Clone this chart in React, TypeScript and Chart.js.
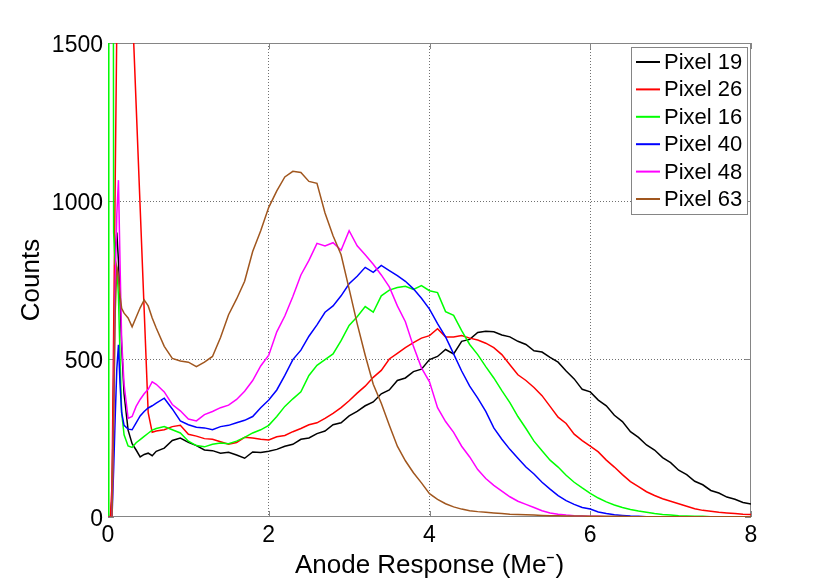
import React, { useEffect, useRef } from 'react';
import { Chart, registerables } from 'chart.js';

Chart.register(...registerables);

const FONT = '"Liberation Sans", Arial, Helvetica, sans-serif';

// bin centres (Me-), fine near the pedestal spike
const responseBins = [
  0, 0.01, 0.03, 0.05, 0.07, 0.09, 0.11, 0.13, 0.15, 0.17, 0.2, 0.25, 0.3, 0.35, 0.4, 0.45, 0.5, 0.55, 0.6,
  0.7, 0.8, 0.9, 1.0, 1.1, 1.2, 1.3, 1.4, 1.5, 1.6,
  1.7, 1.8, 1.9, 2.0, 2.1, 2.2, 2.3, 2.4, 2.5, 2.6,
  2.7, 2.8, 2.9, 3.0, 3.1, 3.2, 3.3, 3.4, 3.5, 3.6,
  3.7, 3.8, 3.9, 4.0, 4.1, 4.2, 4.3, 4.4, 4.5, 4.6,
  4.7, 4.8, 4.9, 5.0, 5.1, 5.2, 5.3, 5.4, 5.5, 5.6,
  5.7, 5.8, 5.9, 6.0, 6.1, 6.2, 6.3, 6.4, 6.5, 6.6,
  6.7, 6.8, 6.9, 7.0, 7.1, 7.2, 7.3, 7.4, 7.5, 7.6,
  7.7, 7.8, 7.9, 8.0,
];

const pixel19 = [
  0, 0, 0, 60, 420, 850, 900, 810, 690, 540, 390, 275, 232, 212, 190, 198, 202, 194, 208,
  218, 242, 250, 236, 226, 212, 210, 202, 205, 196,
  186, 206, 204, 208, 214, 224, 230, 246, 250, 264,
  272, 292, 298, 320, 334, 352, 364, 390, 402, 432,
  440, 460, 468, 498, 508, 530, 516, 556, 562, 584,
  588, 586, 576, 570, 556, 546, 526, 522, 505, 490,
  462, 437, 404, 396, 370, 352, 322, 302, 270, 252,
  228, 212, 188, 172, 148, 134, 113, 102, 84, 76,
  63, 56, 46, 41,
];

const pixel26 = [
  0, 0, 0, 100, 580, 1070, 1560, 2700, 2600, 2480, 2280, 1955, 1630, 1305, 980, 655, 330, 268, 272,
  276, 286, 290, 262, 256, 248, 246, 238, 230, 236,
  252, 250, 246, 244, 254, 258, 270, 280, 292, 298,
  312, 328, 346, 368, 392, 414, 442, 464, 500, 518,
  536, 552, 566, 574, 596, 570, 570, 574, 566, 560,
  550, 536, 514, 482, 450, 432, 410, 384, 350, 316,
  296, 262, 242, 224, 206, 180, 158, 134, 112, 96,
  80, 68, 58, 50, 42, 34, 26, 21, 18, 15,
  13, 11, 9, 8,
];

const pixel16 = [
  0, 6000, 6000, 6000, 900, 800, 790, 700, 500, 330, 260, 225, 220, 235, 245, 255, 265, 275, 280,
  286, 276, 266, 240, 226, 222, 230, 234, 232, 240,
  252, 266, 276, 290, 318, 350, 374, 396, 448, 480,
  498, 516, 558, 606, 634, 666, 648, 700, 718, 726,
  730, 720, 732, 716, 710, 650, 638, 590, 546, 514,
  476, 440, 400, 362, 318, 280, 240, 210, 180, 158,
  132, 110, 92, 75, 60, 48, 38, 30, 24, 19,
  15, 11, 8, 6, 4, 3, 2, 2, 1, 1,
  1, 1, 1, 1,
];

const pixel40 = [
  0, 0, 0, 0, 150, 320, 470, 545, 420, 330, 290, 278, 276, 298, 320, 334, 345, 352, 360,
  376, 342, 304, 292, 284, 282, 276, 286, 290, 298,
  306, 318, 346, 370, 402, 448, 498, 528, 572, 608,
  648, 668, 700, 738, 762, 790, 774, 796, 780, 764,
  746, 722, 692, 658, 612, 570, 516, 462, 414, 376,
  334, 282, 246, 214, 186, 158, 136, 110, 88, 68,
  52, 40, 30, 25, 16, 11, 7, 5, 3, 2,
  1, 1, 1, 1, 0, 0, 0, 0, 0, 0,
  0, 0, 0, 0,
];

const pixel48 = [
  0, 0, 0, 0, 300, 750, 960, 1066, 800, 560, 420, 312, 318, 350, 372, 390, 404, 428, 420,
  396, 356, 336, 310, 304, 324, 334, 346, 354, 372,
  398, 432, 478, 512, 586, 636, 698, 766, 812, 866,
  858, 868, 844, 906, 858, 830, 800, 766, 728, 668,
  618, 540, 472, 428, 346, 302, 268, 224, 190, 150,
  122, 100, 82, 64, 50, 40, 30, 20, 13, 9,
  6, 4, 3, 2, 2, 1, 1, 1, 1, 0,
  0, 0, 0, 0, 0, 0, 0, 0, 0, 0,
  0, 0, 0, 0,
];

const pixel63 = [
  0, 0, 0, 0, 300, 650, 790, 760, 700, 660, 645, 630, 602, 632, 662, 687, 668, 630, 598,
  540, 502, 494, 490, 476, 490, 508, 568, 640, 690,
  746, 840, 906, 980, 1032, 1076, 1094, 1090, 1062, 1056,
  962, 890, 830, 722, 612, 512, 420, 360, 290, 224,
  178, 140, 108, 74, 56, 42, 32, 25, 20, 17,
  15, 13, 11, 9, 8, 7, 6, 5, 4, 4,
  3, 3, 3, 2, 2, 2, 2, 2, 1, 1,
  1, 1, 1, 1, 1, 1, 1, 1, 1, 1,
  1, 1, 1, 1,
];

const seriesLabels = ['Pixel 19', 'Pixel 26', 'Pixel 16', 'Pixel 40', 'Pixel 48', 'Pixel 63'];
const seriesColors = ['#000000', '#ff0000', '#00ff00', '#0000ff', '#ff00ff', '#a0561e'];
const seriesValues = [pixel19, pixel26, pixel16, pixel40, pixel48, pixel63];

const xTicks = [0, 2, 4, 6, 8];
const yTicks = [0, 500, 1000, 1500];

const FRAME_COLOR = '#858585';
const GRID_COLOR = '#707070';

// matlab-ish box with inward tick marks
const framePlugin = {
  id: 'matlabFrame',
  beforeDatasetsDraw(chart: any) {
    const { ctx, chartArea, scales } = chart;
    const { left, right, top, bottom } = chartArea;
    const len = 6;
    ctx.save();
    ctx.strokeStyle = FRAME_COLOR;
    ctx.lineWidth = 1;
    ctx.strokeRect(left + 0.5, top + 0.5, right - left - 1, bottom - top - 1);
    ctx.beginPath();
    xTicks.forEach((v) => {
      const px = Math.round(scales.x.getPixelForValue(v)) + 0.5;
      ctx.moveTo(px, bottom);
      ctx.lineTo(px, bottom - len);
      ctx.moveTo(px, top);
      ctx.lineTo(px, top + len);
    });
    yTicks.forEach((v) => {
      const py = Math.round(scales.y.getPixelForValue(v)) + 0.5;
      ctx.moveTo(left, py);
      ctx.lineTo(left + len, py);
      ctx.moveTo(right, py);
      ctx.lineTo(right - len, py);
    });
    ctx.stroke();
    ctx.restore();
  },
};

// legend box inside the upper right corner of the axes
const insideLegendPlugin = {
  id: 'insideLegend',
  afterDraw(chart: any) {
    const { ctx, chartArea } = chart;
    const boxW = 116;
    const boxH = 167;
    const rowH = 27.4;
    const x0 = Math.round(chartArea.right - 4 - boxW);
    const y0 = Math.round(chartArea.top + 4);
    ctx.save();
    ctx.fillStyle = '#ffffff';
    ctx.fillRect(x0, y0, boxW, boxH);
    ctx.strokeStyle = FRAME_COLOR;
    ctx.lineWidth = 1;
    ctx.strokeRect(x0 + 0.5, y0 + 0.5, boxW, boxH);
    ctx.font = `22px ${FONT}`;
    ctx.textBaseline = 'middle';
    ctx.textAlign = 'left';
    chart.data.datasets.forEach((ds: any, i: number) => {
      const cy = y0 + 15 + i * rowH;
      ctx.strokeStyle = ds.borderColor;
      ctx.lineWidth = 2;
      ctx.beginPath();
      ctx.moveTo(x0 + 5, cy);
      ctx.lineTo(x0 + 29, cy);
      ctx.stroke();
      ctx.fillStyle = '#000000';
      ctx.fillText(ds.label, x0 + 33, cy + 1);
    });
    ctx.restore();
  },
};

const gridColor = (c: any) =>
  c.tick && (c.tick.value === c.scale.min || c.tick.value === c.scale.max) ? 'rgba(0,0,0,0)' : GRID_COLOR;

const AnodeHistogram: React.FC = () => {
  const canvasRef = useRef<HTMLCanvasElement>(null);
  const chartRef = useRef<Chart | null>(null);

  useEffect(() => {
    if (!canvasRef.current) return;
    if (chartRef.current) chartRef.current.destroy();

    const datasets = seriesLabels.map((label, i) => ({
      label,
      data: responseBins.map((x, j) => ({ x, y: seriesValues[i][j] })),
      borderColor: seriesColors[i],
      backgroundColor: seriesColors[i],
      borderWidth: 1.5,
      pointRadius: 0,
      tension: 0,
      fill: false,
      order: seriesLabels.length - i,
    }));

    chartRef.current = new Chart(canvasRef.current, {
      type: 'line',
      data: { datasets },
      options: {
        animation: false,
        responsive: true,
        maintainAspectRatio: false,
        layout: { padding: { top: 43, right: 79, left: 0, bottom: 0 } },
        plugins: {
          legend: { display: false },
          tooltip: { enabled: false },
        },
        scales: {
          x: {
            type: 'linear',
            min: 0,
            max: 8,
            afterBuildTicks: (s: any) => { s.ticks = xTicks.map((value) => ({ value })); },
            afterFit: (s: any) => { s.height = 64; },
            grid: { color: gridColor, lineWidth: 1, drawTicks: false },
            border: { display: false, dash: [1, 2] },
            ticks: {
              color: '#000000',
              font: { size: 23, family: FONT },
              padding: 5,
              maxRotation: 0,
              autoSkip: false,
              callback: (v: any) => String(v),
            },
            title: {
              display: true,
              text: 'Anode Response (Me\u207B)',
              color: '#000000',
              font: { size: 26, family: FONT },
              padding: { top: -1, bottom: 0 },
            },
          },
          y: {
            type: 'linear',
            min: 0,
            max: 1500,
            afterBuildTicks: (s: any) => { s.ticks = yTicks.map((value) => ({ value })); },
            afterFit: (s: any) => { s.width = 108; },
            grid: { color: gridColor, lineWidth: 1, drawTicks: false },
            border: { display: false, dash: [1, 2] },
            ticks: {
              color: '#000000',
              font: { size: 23, family: FONT },
              padding: 5,
              labelOffset: 3,
              autoSkip: false,
              callback: (v: any) => String(v),
            },
            title: {
              display: true,
              text: 'Counts',
              color: '#000000',
              font: { size: 26, family: FONT },
              padding: { top: 16, bottom: 0 },
            },
          },
        },
      },
      plugins: [framePlugin, insideLegendPlugin],
    });

    return () => {
      if (chartRef.current) {
        chartRef.current.destroy();
        chartRef.current = null;
      }
    };
  }, []);

  return <canvas ref={canvasRef} />;
};

export default function App() {
  return (
    <div style={{ position: 'absolute', left: 0, top: 0, width: 830, height: 581, background: '#ffffff' }}>
      <AnodeHistogram />
    </div>
  );
}
